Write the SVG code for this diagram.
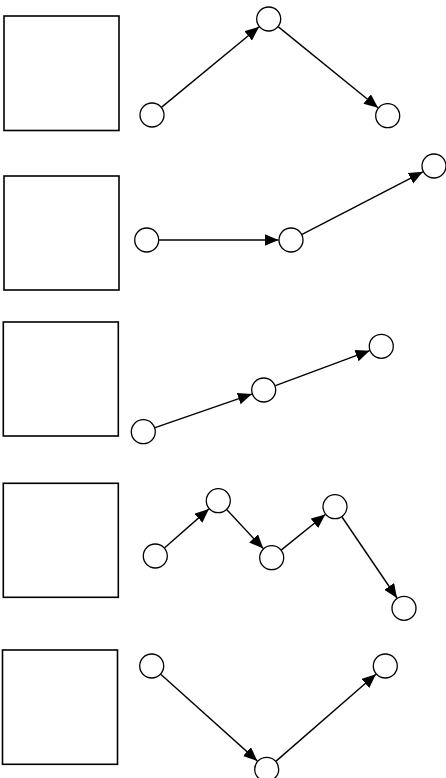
<svg xmlns="http://www.w3.org/2000/svg" width="446" height="778" viewBox="0 0 446 778">
<style>
.box{fill:#fff;stroke:#000;stroke-width:1.6}
.node{fill:#fff;stroke:#000;stroke-width:1.3}
.edge{stroke:#000;stroke-width:1.4;fill:none;marker-end:url(#arr)}
</style>
<defs>
<marker id="arr" markerUnits="userSpaceOnUse" markerWidth="15" markerHeight="13" refX="14" refY="6" orient="auto">
<path d="M0,0 L14,6 L0,12 z" fill="#000"/>
</marker>
</defs>
<rect width="446" height="778" fill="#fff"/>
<g id="row1">
<rect id="box1" class="box" x="4" y="16" width="115" height="114.5"/>
<circle id="n1a" class="node" cx="152" cy="115" r="12"/>
<circle id="n1b" class="node" cx="268.7" cy="19" r="12"/>
<circle id="n1c" class="node" cx="387.7" cy="115.7" r="12"/>
</g>
<g id="row2">
<rect id="box2" class="box" x="4" y="176" width="115" height="114"/>
<circle id="n2a" class="node" cx="146.7" cy="240" r="12"/>
<circle id="n2b" class="node" cx="291" cy="240" r="12"/>
<circle id="n2c" class="node" cx="434" cy="166" r="12"/>
</g>
<g id="row3">
<rect id="box3" class="box" x="3.3" y="322" width="115" height="114"/>
<circle id="n3a" class="node" cx="143.3" cy="431.7" r="12"/>
<circle id="n3b" class="node" cx="263.7" cy="390" r="12"/>
<circle id="n3c" class="node" cx="381.3" cy="346.3" r="12"/>
</g>
<g id="row4">
<rect id="box4" class="box" x="3.3" y="483.3" width="115" height="114"/>
<circle id="n4a" class="node" cx="155.3" cy="556" r="12"/>
<circle id="n4b" class="node" cx="218.3" cy="500.7" r="12"/>
<circle id="n4c" class="node" cx="271.7" cy="557.7" r="12"/>
<circle id="n4d" class="node" cx="335" cy="506.7" r="12"/>
<circle id="n4e" class="node" cx="404" cy="608.3" r="12"/>
</g>
<g id="row5">
<rect id="box5" class="box" x="2.5" y="650" width="115" height="114.3"/>
<circle id="n5a" class="node" cx="151.7" cy="666" r="12"/>
<circle id="n5b" class="node" cx="266.7" cy="769.3" r="12"/>
<circle id="n5c" class="node" cx="385.3" cy="666" r="12"/>
</g>
<g id="connectors">
<line class="edge" x1="161.7" y1="107.1" x2="259.0" y2="26.9"/>
<line class="edge" x1="278.4" y1="26.9" x2="378.0" y2="107.8"/>
<line class="edge" x1="159.2" y1="240" x2="278.5" y2="240"/>
<line class="edge" x1="302.1" y1="234.3" x2="422.9" y2="171.8"/>
<line class="edge" x1="155.1" y1="427.6" x2="251.9" y2="394.1"/>
<line class="edge" x1="275.4" y1="385.6" x2="369.6" y2="350.7"/>
<line class="edge" x1="164.7" y1="547.8" x2="208.9" y2="508.9"/>
<line class="edge" x1="226.9" y1="509.8" x2="263.2" y2="548.6"/>
<line class="edge" x1="281.4" y1="549.9" x2="325.3" y2="514.5"/>
<line class="edge" x1="342.0" y1="517.0" x2="397.0" y2="598.0"/>
<line class="edge" x1="161.0" y1="674.4" x2="257.4" y2="761.0"/>
<line class="edge" x1="276.1" y1="761.1" x2="375.9" y2="674.2"/>
</g>
</svg>
